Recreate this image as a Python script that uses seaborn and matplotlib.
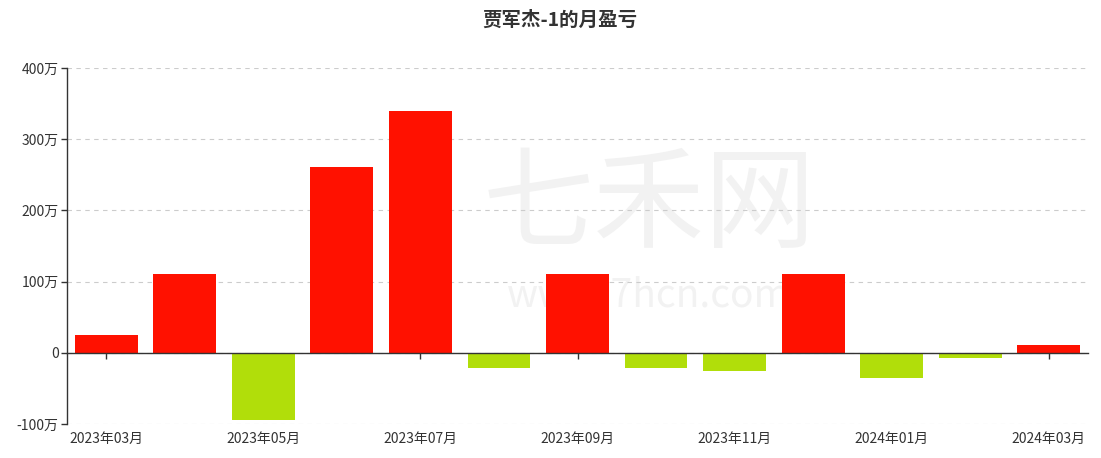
import numpy as np
import pandas as pd
import matplotlib.pyplot as plt
import seaborn as sns

MONTHS = ['2023年03月', '2023年04月', '2023年05月', '2023年06月', '2023年07月',
          '2023年08月', '2023年09月', '2023年10月', '2023年11月', '2023年12月',
          '2024年01月', '2024年02月', '2024年03月']
PNL_WAN = [25, 110, -94, 261, 340, -22, 111, -22, -26, 111, -35, -8, 11]
YTICKS = [-100, 0, 100, 200, 300, 400]

RED = '#ff1100'
GREEN = '#b1de0a'

sns.set_style('white')
plt.rcParams['font.family'] = ['Noto Sans CJK SC', 'DejaVu Sans']

df = pd.DataFrame({'month': MONTHS, 'pnl': PNL_WAN})
df['sign'] = np.where(df['pnl'] >= 0, 'gain', 'loss')

fig = plt.figure(figsize=(11.01, 4.58), dpi=100)
ax = fig.add_axes([67 / 1101, 1 - 424 / 458, 1021 / 1101, 356 / 458])

sns.barplot(data=df, x='month', y='pnl', hue='sign', order=MONTHS,
            palette={'gain': RED, 'loss': GREEN}, dodge=False, legend=False,
            width=0.8, saturation=1, linewidth=0, ax=ax, zorder=2)

ax.set_xlim(-0.5, len(MONTHS) - 0.5)
ax.set_ylim(-100, 400)
ax.set_yticks(YTICKS)
ax.set_yticklabels(['0' if v == 0 else f'{v}万' for v in YTICKS])
ax.set_xticks(range(0, len(MONTHS), 2))
ax.set_xticklabels(MONTHS[::2])
ax.set_xlabel('')
ax.set_ylabel('')

ax.set_axisbelow(True)
ax.yaxis.grid(True, linestyle=(0, (4, 4)), color='#cccccc', linewidth=0.8)
ax.xaxis.grid(False)
for side in ['top', 'right']:
    ax.spines[side].set_visible(False)
ax.spines['bottom'].set_position(('data', 0))
for side in ['bottom', 'left']:
    ax.spines[side].set_color('#333333')
    ax.spines[side].set_linewidth(1)
ax.tick_params(axis='x', direction='out', length=4, width=1, color='#333333',
               pad=53, labelsize=10, labelcolor='#333333', bottom=True)
ax.tick_params(axis='y', direction='out', length=4, width=1, color='#333333',
               pad=2, labelsize=10, labelcolor='#333333', left=True)

# watermark
ax.text(0.57, 0.61, '七禾网', transform=ax.transAxes, fontsize=80,
        color='#f2f2f2', ha='center', va='center', zorder=0)
ax.text(0.57, 0.36, 'www.7hcn.com', transform=ax.transAxes, fontsize=28,
        color='#f2f2f2', ha='center', va='center', zorder=0)

fig.text(560 / 1101, 1 - 20 / 458, '贾军杰-1的月盈亏', ha='center', va='center',
         fontsize=14, fontweight='bold', color='#333333')

fig.savefig('out.png', dpi=100)
